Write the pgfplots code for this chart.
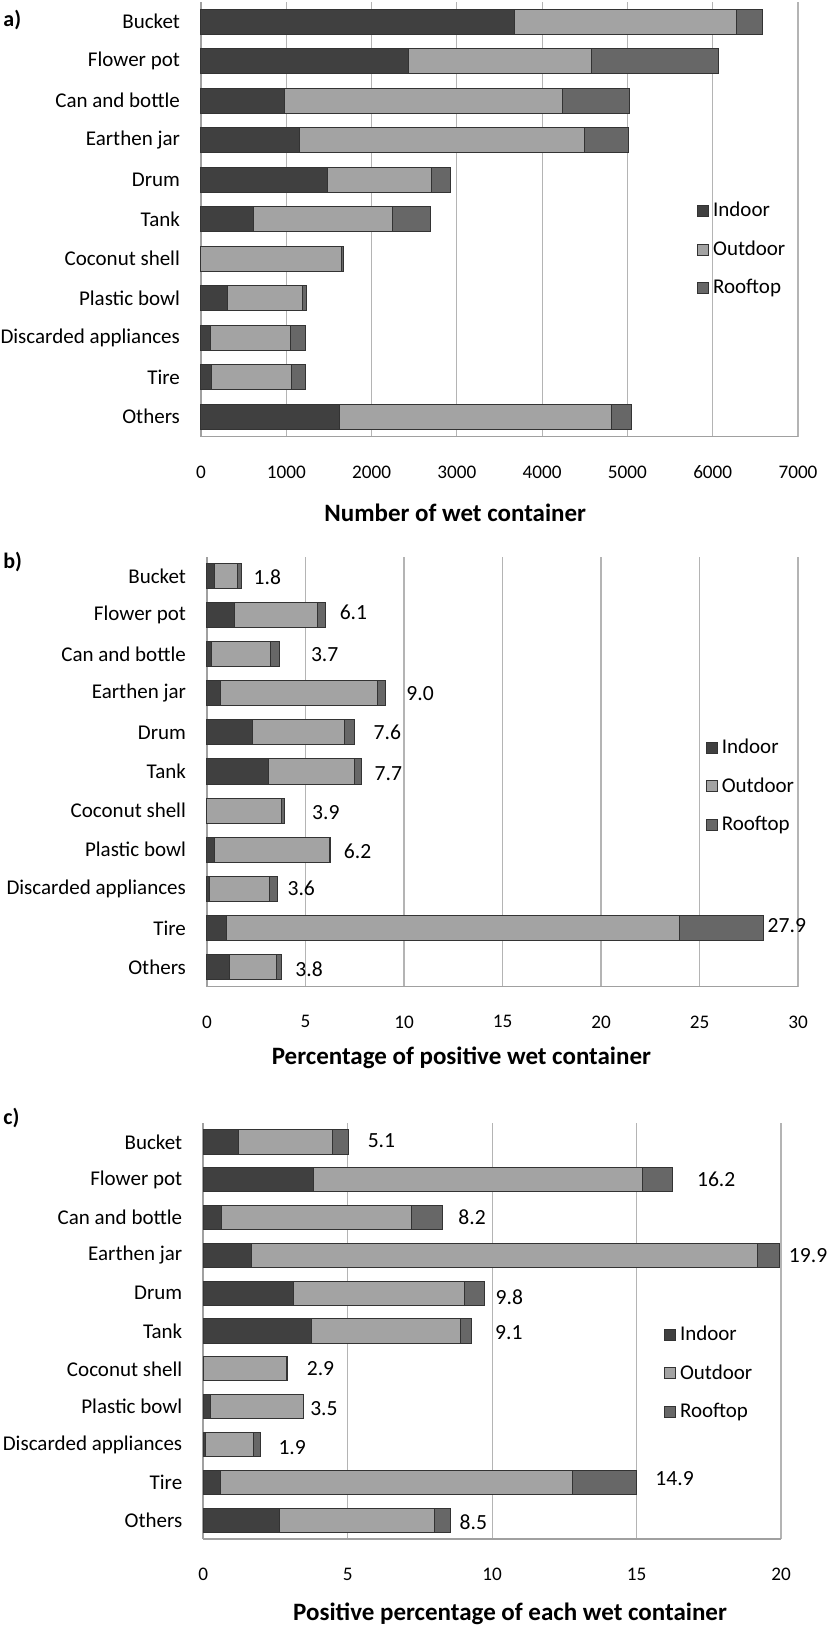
\documentclass[border=0pt]{standalone}
\usepackage{pgfplots}
\pgfplotsset{compat=1.18}
\usepackage{pgfplotstable}
\usepackage{fontspec}
\setmainfont{Carlito}
\definecolor{cIn}{HTML}{404040}
\definecolor{cOut}{HTML}{A3A3A3}
\definecolor{cRoof}{HTML}{676767}
\definecolor{cEdge}{HTML}{333333}
\definecolor{cGrid}{HTML}{B4B4B4}
\definecolor{cAxis}{HTML}{A0A0A0}

% y: 10 = Bucket (top) ... 0 = Others (bottom)
\pgfplotstableread{
y in out roof
10 3680 2600 300
9 2430 2150 1490
8 975 3265 790
7 1150 3345 520
6 1480 1225 220
5 615 1625 455
4 0 1645 25
3 315 875 50
2 115 940 175
1 125 938 164
0 1620 3190 240
}\dataA
\pgfplotstableread{
y in out roof
10 0.40 1.13 0.20
9 1.40 4.23 0.40
8 0.21 3.02 0.47
7 0.69 7.96 0.42
6 2.33 4.63 0.55
5 3.12 4.37 0.34
4 0 3.76 0.18
3 0.37 5.85 0.05
2 0.13 3.04 0.40
1 1.00 23.00 4.26
0 1.16 2.39 0.23
}\dataB
\pgfplotstableread{
y in out roof
10 1.23 3.26 0.55
9 3.82 11.38 1.05
8 0.63 6.59 1.07
7 1.67 17.52 0.77
6 3.11 5.92 0.69
5 3.75 5.17 0.38
4 0 2.87 0.03
3 0.26 3.20 0.01
2 0.07 1.68 0.22
1 0.59 12.19 2.22
0 2.63 5.37 0.55
}\dataC

\pgfplotsset{
 panel/.style={
  scale only axis, xbar stacked, bar width=0.64,
  ymin=-0.5, ymax=10.5, xmin=0, clip=false,
  axis lines=left, axis line style={-, draw=cAxis, line width=0.8pt},
  xmajorgrids, major grid style={draw=cGrid, line width=0.6pt},
  major tick length=0pt,
  ytick={0,...,10},
  yticklabels={Others,Tire,Discarded appliances,Plastic bowl,Coconut shell,Tank,Drum,Earthen jar,Can and bottle,Flower pot,Bucket},
  yticklabel style={font=\fontsize{10.5}{12}\selectfont, xshift=-7pt},
  xticklabel style={font=\fontsize{9.6}{11}\selectfont, yshift=-11pt},
  /pgf/number format/assume math mode=true,
  /pgf/number format/1000 sep={},
  xlabel style={font=\fontsize{12.5}{14}\selectfont\bfseries, anchor=west, inner sep=0pt},
  legend style={draw=none, fill=none, anchor=north west, font=\fontsize{10.5}{12}\selectfont, row sep=6.5pt, inner sep=0pt, outer sep=0pt},
  legend cell align=left,
  legend image code/.code={\draw[##1] (0pt,-2.75pt) rectangle (5.5pt,2.75pt);},
  every axis plot/.append style={draw=cEdge, line width=0.5pt},
 },
}
\tikzset{dl/.style={anchor=west, inner sep=0pt, font=\fontsize{10.8}{12}\selectfont}}

\begin{document}
\begin{tikzpicture}
\path[use as bounding box] (0,0) rectangle (414.5pt,-813.5pt);

\node[font=\fontsize{11}{12}\selectfont\bfseries, anchor=west, inner sep=0pt] at (1.5pt,-10pt) {a)};
\node[font=\fontsize{11}{12}\selectfont\bfseries, anchor=west, inner sep=0pt] at (1.5pt,-281pt) {b)};
\node[font=\fontsize{11}{12}\selectfont\bfseries, anchor=west, inner sep=0pt] at (1.5pt,-559pt) {c)};

% ---------------- panel a
\begin{axis}[panel, at={(100.5pt,-1pt)}, anchor=north west,
  width=298.5pt, height=217.25pt, xmax=7000,
  xtick={0,1000,...,7000},
  xlabel={Number of wet container},
  xlabel style={at={(axis description cs:0.206,0)}, yshift=-38.25pt},
  legend style={at={(axis description cs:0.831,0.548)}},
]
\addplot[fill=cIn] table[x=in,y=y]{\dataA};
\addplot[fill=cOut] table[x=out,y=y]{\dataA};
\addplot[fill=cRoof] table[x=roof,y=y]{\dataA};
\legend{Indoor,Outdoor,Rooftop}
\end{axis}

% ---------------- panel b
\begin{axis}[panel, at={(103.5pt,-278.25pt)}, anchor=north west,
  width=295.5pt, height=215pt, xmax=30,
  xtick={0,5,...,30},
  xlabel={Percentage of positive wet container},
  xlabel style={at={(axis description cs:0.109,0)}, yshift=-35.75pt},
  legend style={at={(axis description cs:0.844,0.585)}},
]
\addplot[fill=cIn] table[x=in,y=y]{\dataB};
\addplot[fill=cOut] table[x=out,y=y]{\dataB};
\addplot[fill=cRoof] table[x=roof,y=y]{\dataB};
\legend{Indoor,Outdoor,Rooftop}
\node[dl] at (axis cs:2.35,9.97) {1.8};
\node[dl] at (axis cs:6.72,9.08) {6.1};
\node[dl] at (axis cs:5.26,8) {3.7};
\node[dl] at (axis cs:10.1,7) {9.0};
\node[dl] at (axis cs:8.44,6) {7.6};
\node[dl] at (axis cs:8.49,4.95) {7.7};
\node[dl] at (axis cs:5.32,3.95) {3.9};
\node[dl] at (axis cs:6.93,2.95) {6.2};
\node[dl] at (axis cs:4.07,2) {3.6};
\node[dl] at (axis cs:28.44,1.05) {27.9};
\node[dl] at (axis cs:4.47,-0.05) {3.8};
\end{axis}

% ---------------- panel c
\begin{axis}[panel, at={(101.65pt,-561.5pt)}, anchor=north west,
  width=288.85pt, height=208pt, xmax=20,
  xtick={0,5,...,20},
  xlabel={Positive percentage of each wet container},
  xlabel style={at={(axis description cs:0.155,0)}, yshift=-37.5pt},
  legend style={at={(axis description cs:0.7975,0.522)}},
]
\addplot[fill=cIn] table[x=in,y=y]{\dataC};
\addplot[fill=cOut] table[x=out,y=y]{\dataC};
\addplot[fill=cRoof] table[x=roof,y=y]{\dataC};
\legend{Indoor,Outdoor,Rooftop}
\node[dl] at (axis cs:5.68,10.04) {5.1};
\node[dl] at (axis cs:17.08,9.02) {16.2};
\node[dl] at (axis cs:8.82,8) {8.2};
\node[dl] at (axis cs:20.26,7) {19.9};
\node[dl] at (axis cs:10.11,5.9) {9.8};
\node[dl] at (axis cs:10.09,4.96) {9.1};
\node[dl] at (axis cs:3.57,4) {2.9};
\node[dl] at (axis cs:3.69,2.95) {3.5};
\node[dl] at (axis cs:2.59,1.92) {1.9};
\node[dl] at (axis cs:15.64,1.1) {14.9};
\node[dl] at (axis cs:8.86,-0.05) {8.5};
\end{axis}
\end{tikzpicture}
\end{document}
